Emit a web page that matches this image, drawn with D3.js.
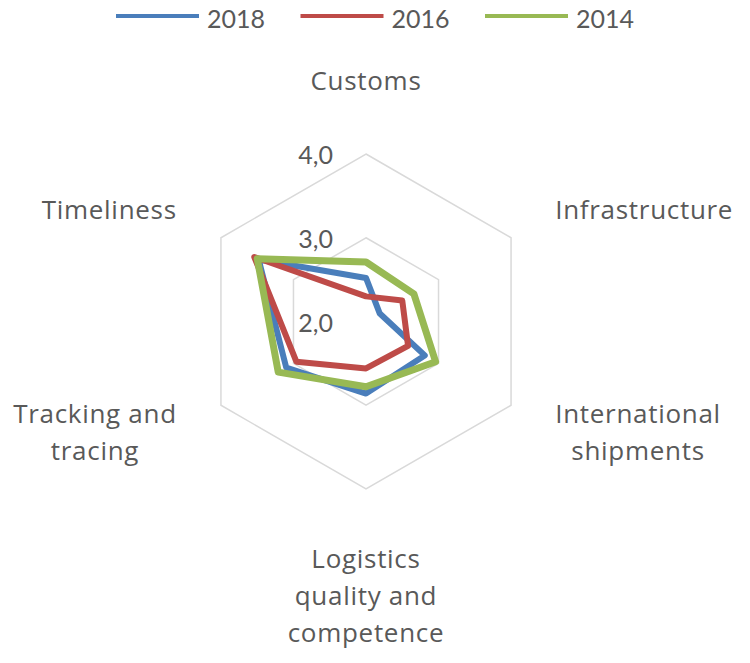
<!DOCTYPE html>
<html>
<head>
<meta charset="utf-8">
<script src="https://cdn.jsdelivr.net/npm/d3@7"></script>
<style>
  html, body { margin: 0; padding: 0; background: #ffffff; }
  svg { display: block; }
  text { font-family: "Lato", "Open Sans", sans-serif; fill: #595959; }
  text.cat { font-family: "Open Sans", "Lato", sans-serif; letter-spacing: 0.7px; }
</style>
</head>
<body>
<svg id="chart" width="750" height="663"></svg>
<script>
// ---- Data ----
const categories = [
  "Customs",
  "Infrastructure",
  "International\nshipments",
  "Logistics\nquality and\ncompetence",
  "Tracking and\ntracing",
  "Timeliness"
];
const seriesNames = ["2018", "2016", "2014"];
const values2018 = [2.52, 2.19, 2.81, 2.86, 3.10, 3.48];
const values2016 = [2.30, 2.50, 2.58, 2.56, 2.96, 3.54];
const values2014 = [2.71, 2.66, 2.96, 2.78, 3.21, 3.50];
const tickValues = [2.0, 3.0, 4.0];
const tickLabels = ["2,0", "3,0", "4,0"];
const seriesColors = ["#4A7EBB", "#BE4B48", "#98B954"];

const series = [
  { name: seriesNames[0], values: values2018, color: seriesColors[0], width: 6 },
  { name: seriesNames[1], values: values2016, color: seriesColors[1], width: 6 },
  { name: seriesNames[2], values: values2014, color: seriesColors[2], width: 7 }
];

// ---- Layout ----
const svg = d3.select("#chart");
const cx = 366, cy = 321.5, R = 167.5;
const r = d3.scaleLinear().domain([2, 4]).range([0, R]);
const angle = d3.scaleLinear().domain([0, categories.length]).range([0, 2 * Math.PI]);

const pt = (i, v) => {
  const a = angle(i);
  return [cx + r(v) * Math.sin(a), cy - r(v) * Math.cos(a)];
};

const g = svg.append("g");

// grid hexagons (skip center level)
const gridLine = d3.line().curve(d3.curveLinearClosed);
tickValues.filter(t => t > 2).forEach(t => {
  g.append("path")
    .attr("d", gridLine(categories.map((c, i) => pt(i, t))))
    .attr("fill", "none")
    .attr("stroke", "#D9D9D9")
    .attr("stroke-width", 1.5);
});

// tick labels
g.selectAll("text.tick")
  .data(tickValues)
  .join("text")
  .attr("class", "tick")
  .attr("x", cx - 33)
  .attr("y", d => cy - r(d) + 10)
  .attr("text-anchor", "end")
  .attr("font-size", 25)
  .text((d, i) => tickLabels[i]);

// series polygons
const line = d3.line().curve(d3.curveLinearClosed);
series.forEach(s => {
  g.append("path")
    .attr("d", line(s.values.map((v, i) => pt(i, v))))
    .attr("fill", "none")
    .attr("stroke", s.color)
    .attr("stroke-width", s.width)
    .attr("stroke-linejoin", "round");
});

// category labels (lines centred inside their label box)
const fs = 26, lh = 37, capH = 18, pad = 51;
categories.forEach((c, i) => {
  const a = angle(i);
  const px = cx + (R + pad) * Math.sin(a);
  const py = cy - (R + pad + 4) * Math.cos(a);
  const lines = c.split("\n");
  const s = Math.sin(a), co = Math.cos(a);
  let firstBase;
  if (Math.abs(s) < 0.01) {
    if (co > 0) firstBase = py - 9 - (lines.length - 1) * lh;
    else firstBase = py + capH + 6;
  } else {
    firstBase = py - (lines.length - 1) * lh / 2 + capH / 2;
  }
  const t = g.append("text")
    .attr("class", "cat")
    .attr("text-anchor", "middle")
    .attr("font-size", fs);
  const spans = lines.map((ln, k) =>
    t.append("tspan").attr("x", px).attr("y", firstBase + k * lh).text(ln));
  const maxW = d3.max(spans, sp => sp.node().getComputedTextLength());
  let centerX = px;
  if (Math.abs(s) >= 0.01) centerX = s > 0 ? px + maxW / 2 : px - maxW / 2;
  spans.forEach(sp => sp.attr("x", centerX));
});

// legend
const legend = svg.append("g");
const legendX = d3.scalePoint().domain(seriesNames).range([116, 485]);
series.forEach(s => {
  const x0 = legendX(s.name);
  legend.append("line")
    .attr("x1", x0).attr("x2", x0 + 83)
    .attr("y1", 16).attr("y2", 16)
    .attr("stroke", s.color)
    .attr("stroke-width", 4);
  legend.append("text")
    .attr("x", x0 + 91).attr("y", 28)
    .attr("font-size", 25)
    .text(s.name);
});
</script>
</body>
</html>
